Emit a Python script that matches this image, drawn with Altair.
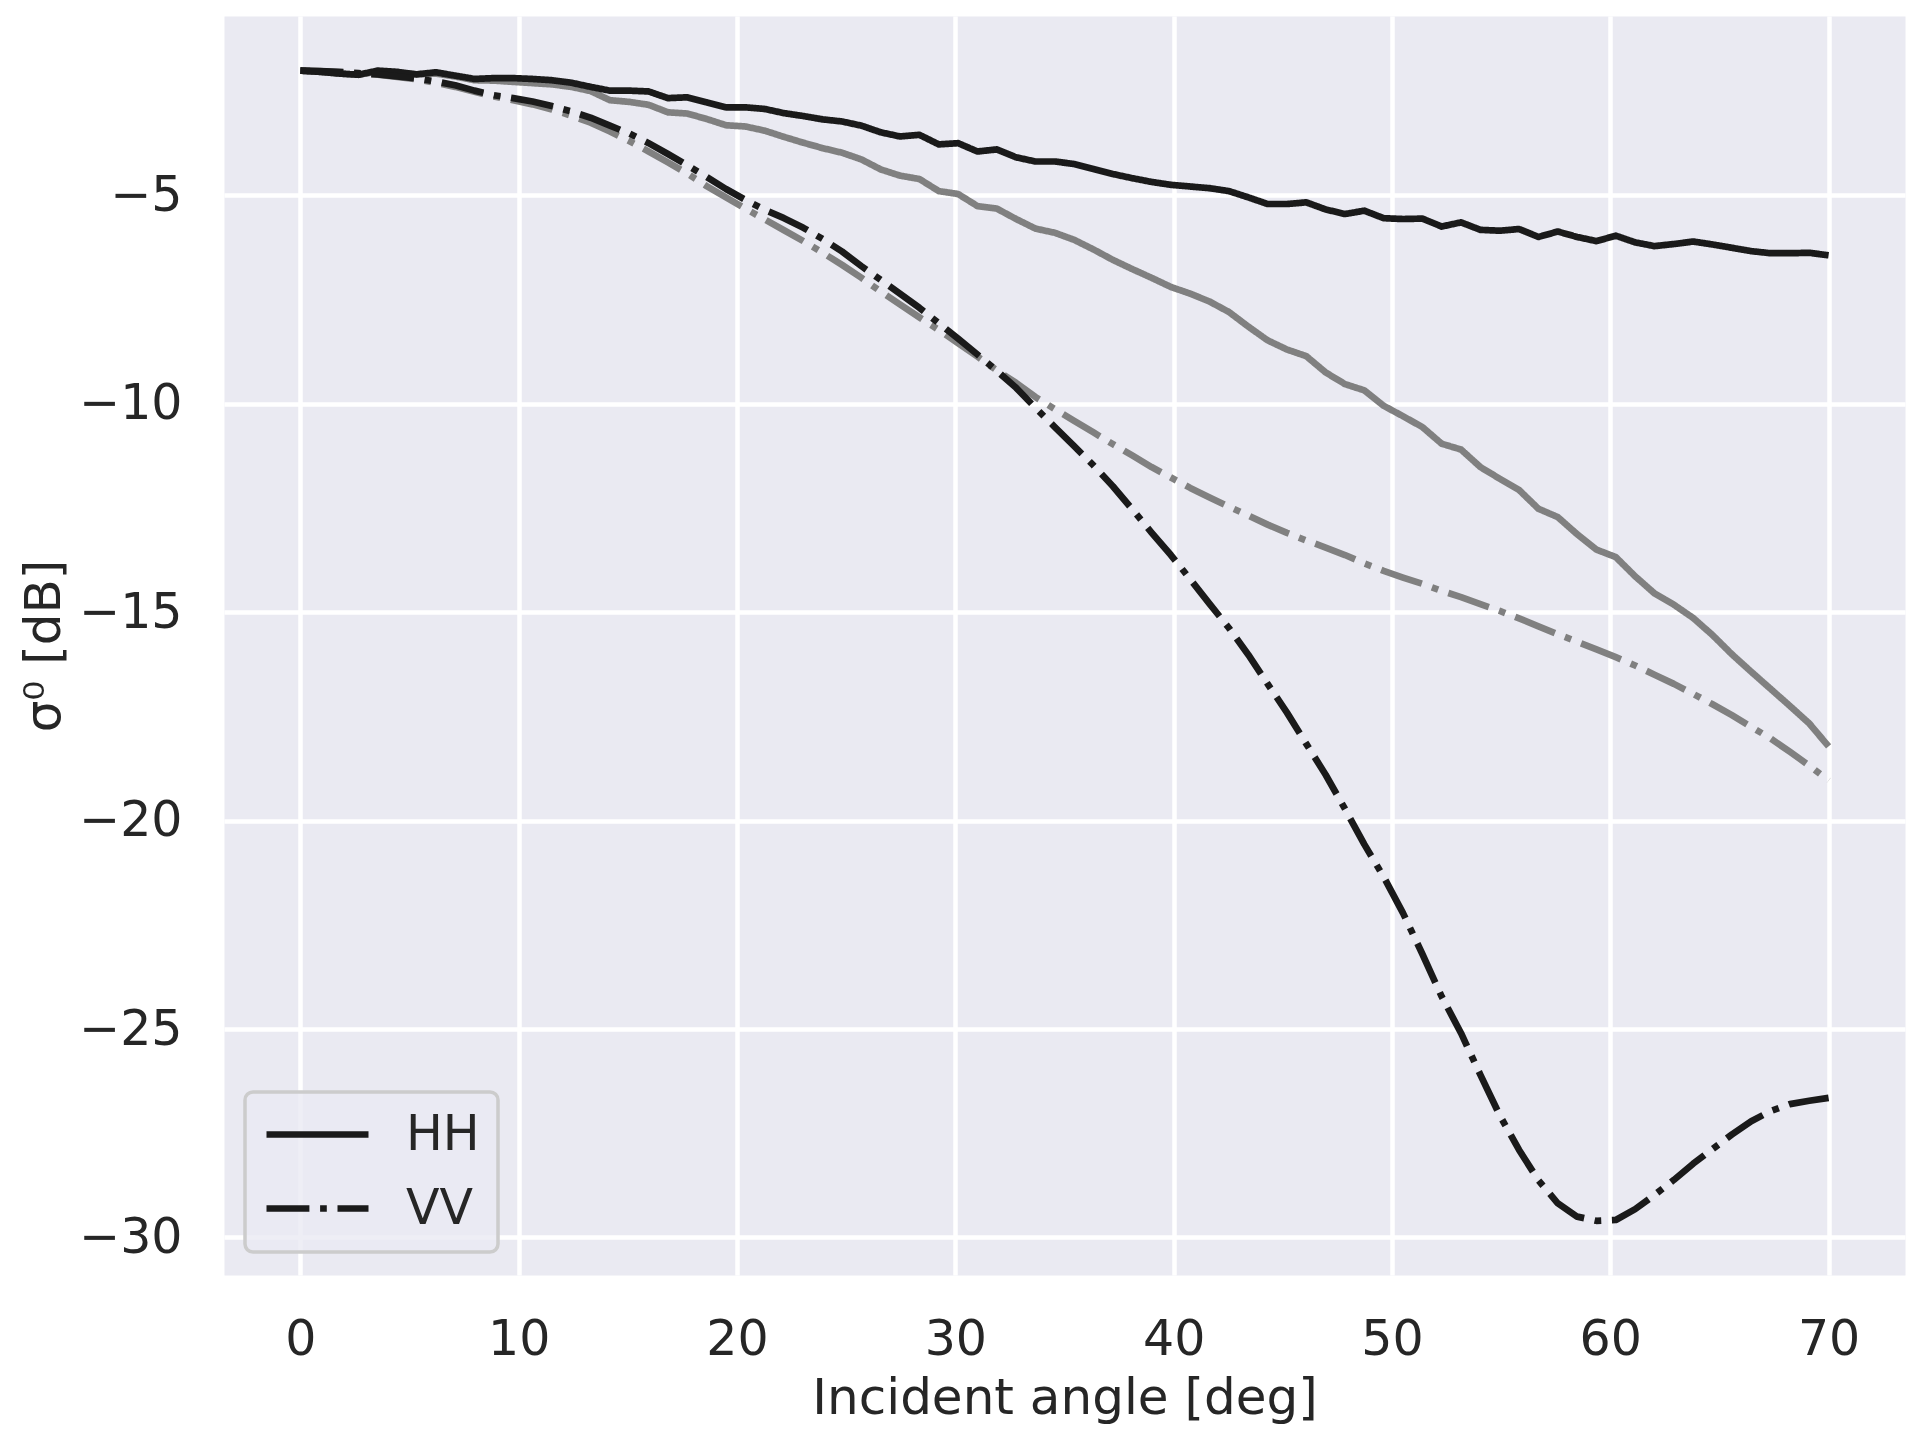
import altair as alt
import pandas as pd

# Incident angle grid (deg)
angles = [0.0, 0.886, 1.772, 2.658, 3.544, 4.43, 5.316, 6.203, 7.089, 7.975,
          8.861, 9.747, 10.633, 11.519, 12.405, 13.291, 14.177, 15.063, 15.949, 16.835,
          17.722, 18.608, 19.494, 20.38, 21.266, 22.152, 23.038, 23.924, 24.81, 25.696,
          26.582, 27.468, 28.354, 29.241, 30.127, 31.013, 31.899, 32.785, 33.671, 34.557,
          35.443, 36.329, 37.215, 38.101, 38.987, 39.873, 40.759, 41.646, 42.532, 43.418,
          44.304, 45.19, 46.076, 46.962, 47.848, 48.734, 49.62, 50.506, 51.392, 52.278,
          53.165, 54.051, 54.937, 55.823, 56.709, 57.595, 58.481, 59.367, 60.253, 61.139,
          62.025, 62.911, 63.797, 64.684, 65.57, 66.456, 67.342, 68.228, 69.114, 70.0]

# black solid (HH, model A)
hh_a = [-2.01, -2.04, -2.08, -2.11, -2.01, -2.04, -2.10, -2.05, -2.13, -2.21,
        -2.19, -2.19, -2.21, -2.24, -2.30, -2.40, -2.49, -2.49, -2.51, -2.67,
        -2.65, -2.77, -2.89, -2.89, -2.93, -3.03, -3.10, -3.18, -3.23, -3.33,
        -3.49, -3.59, -3.55, -3.78, -3.75, -3.95, -3.90, -4.09, -4.19, -4.19,
        -4.25, -4.37, -4.49, -4.59, -4.68, -4.75, -4.79, -4.83, -4.90, -5.05,
        -5.21, -5.21, -5.17, -5.34, -5.45, -5.37, -5.55, -5.57, -5.56, -5.75,
        -5.65, -5.83, -5.85, -5.81, -6.00, -5.87, -6.00, -6.10, -5.97, -6.13,
        -6.22, -6.17, -6.11, -6.18, -6.26, -6.34, -6.39, -6.39, -6.38, -6.44]

# gray solid (HH, model B)
hh_b = [-2.01, -2.04, -2.08, -2.11, -2.03, -2.06, -2.10, -2.08, -2.15, -2.24,
        -2.25, -2.28, -2.31, -2.34, -2.40, -2.50, -2.72, -2.76, -2.83, -3.01,
        -3.04, -3.17, -3.32, -3.35, -3.45, -3.60, -3.74, -3.87, -3.98, -4.14,
        -4.38, -4.53, -4.61, -4.90, -4.97, -5.26, -5.32, -5.57, -5.80, -5.90,
        -6.07, -6.30, -6.55, -6.77, -6.98, -7.20, -7.36, -7.55, -7.80, -8.15,
        -8.48, -8.70, -8.86, -9.25, -9.53, -9.68, -10.05, -10.30, -10.56, -10.96,
        -11.10, -11.52, -11.80, -12.07, -12.52, -12.72, -13.13, -13.50, -13.68, -14.14,
        -14.55, -14.82, -15.14, -15.55, -16.01, -16.43, -16.84, -17.25, -17.67, -18.22]

# black dash-dot (VV, model A)
vv_a = [-2.01, -2.02, -2.04, -2.07, -2.10, -2.15, -2.20, -2.27, -2.36, -2.49,
        -2.60, -2.67, -2.75, -2.86, -2.99, -3.14, -3.33, -3.52, -3.75, -4.01,
        -4.28, -4.56, -4.85, -5.11, -5.35, -5.55, -5.78, -6.05, -6.35, -6.70,
        -7.03, -7.36, -7.70, -8.07, -8.44, -8.82, -9.21, -9.62, -10.10, -10.56,
        -11.02, -11.48, -11.98, -12.53, -13.09, -13.63, -14.21, -14.80, -15.38, -16.02,
        -16.72, -17.41, -18.16, -18.90, -19.72, -20.57, -21.35, -22.22, -23.20, -24.22,
        -25.10, -26.10, -27.07, -27.90, -28.63, -29.18, -29.50, -29.60, -29.58, -29.32,
        -28.98, -28.62, -28.23, -27.88, -27.53, -27.21, -26.97, -26.80, -26.72, -26.65]

# gray dash-dot (VV, model B)
vv_b = [-2.01, -2.02, -2.05, -2.08, -2.11, -2.16, -2.22, -2.30, -2.40, -2.52,
        -2.63, -2.72, -2.82, -2.94, -3.09, -3.26, -3.47, -3.70, -3.95, -4.21,
        -4.48, -4.78, -5.05, -5.32, -5.58, -5.84, -6.10, -6.38, -6.67, -6.98,
        -7.31, -7.62, -7.93, -8.23, -8.55, -8.87, -9.20, -9.50, -9.84, -10.13,
        -10.41, -10.69, -10.97, -11.24, -11.52, -11.77, -12.02, -12.25, -12.47, -12.68,
        -12.90, -13.10, -13.28, -13.45, -13.63, -13.83, -14.01, -14.17, -14.32, -14.49,
        -14.64, -14.81, -14.97, -15.15, -15.34, -15.53, -15.71, -15.89, -16.08, -16.28,
        -16.50, -16.72, -16.96, -17.21, -17.47, -17.75, -18.03, -18.35, -18.68, -19.04]

pols = ["HH", "VV"]
x_ticks = [0, 10, 20, 30, 40, 50, 60, 70]
y_ticks = [-30, -25, -20, -15, -10, -5]

rows = []
for model, pol, vals in [("A", "HH", hh_a), ("A", "VV", vv_a),
                         ("B", "HH", hh_b), ("B", "VV", vv_b)]:
    for a, v in zip(angles, vals):
        rows.append({"angle": a, "sigma": v, "pol": pol, "model": model})
df = pd.DataFrame(rows)

FONT = "DejaVu Sans"
TXT = "#262626"

dash_scale = alt.Scale(domain=pols, range=[[1, 0], [42.9, 10.7, 6.7, 10.7]])
legend = alt.Legend(
    title=None, orient="none", legendX=21, legendY=1076,
    symbolType="stroke", symbolSize=10404, symbolStrokeWidth=6.7,
    symbolStrokeColor="#1a1a1a", labelFontSize=49, labelFont=FONT,
    labelColor=TXT, labelOffset=34, padding=18, rowPadding=24, clipHeight=49,
    fillColor="rgba(234,234,242,0.8)", strokeColor="#CCCCCC", cornerRadius=8,
)

x_enc = alt.X("angle:Q",
              scale=alt.Scale(domain=[-3.5, 73.5], nice=False, zero=False),
              axis=alt.Axis(values=x_ticks, title="Incident angle [deg]", format="d",
                            labelPadding=40, titlePadding=9, labelFlush=False))
y_enc = alt.Y("sigma:Q",
              scale=alt.Scale(domain=[-30.9, -0.7], nice=False, zero=False),
              axis=alt.Axis(values=y_ticks, title="σ⁰ [dB]", format="d",
                            labelPadding=42, titlePadding=9, labelFlush=False))

base = alt.Chart(df)
gray = base.transform_filter(alt.datum.model == "B").mark_line(
    color="#808080", strokeWidth=6.7, strokeJoin="round"
).encode(x=x_enc, y=y_enc,
         strokeDash=alt.StrokeDash("pol:N", scale=dash_scale, legend=legend),
         detail="pol:N")
black = base.transform_filter(alt.datum.model == "A").mark_line(
    color="#1a1a1a", strokeWidth=6.7, strokeJoin="round"
).encode(x=x_enc, y=y_enc,
         strokeDash=alt.StrokeDash("pol:N", scale=dash_scale, legend=legend),
         detail="pol:N")

chart = alt.layer(gray, black).properties(
    width=1681, height=1259,
    autosize=alt.AutoSizeParams(type="none"),
    padding={"left": 216, "top": 8, "right": 7, "bottom": 157},
    background="white",
).configure_view(
    fill="#EAEAF2", stroke="transparent"
).configure_axis(
    grid=True, gridColor="white", gridWidth=4.5, gridOpacity=1,
    domain=False, ticks=False,
    labelFont=FONT, titleFont=FONT, labelFontSize=49, titleFontSize=50,
    labelColor=TXT, titleColor=TXT, titleFontWeight="normal",
).configure_legend(strokeWidth=3.5)

chart.save("out.html", embed_options={"renderer": "svg", "actions": False})
